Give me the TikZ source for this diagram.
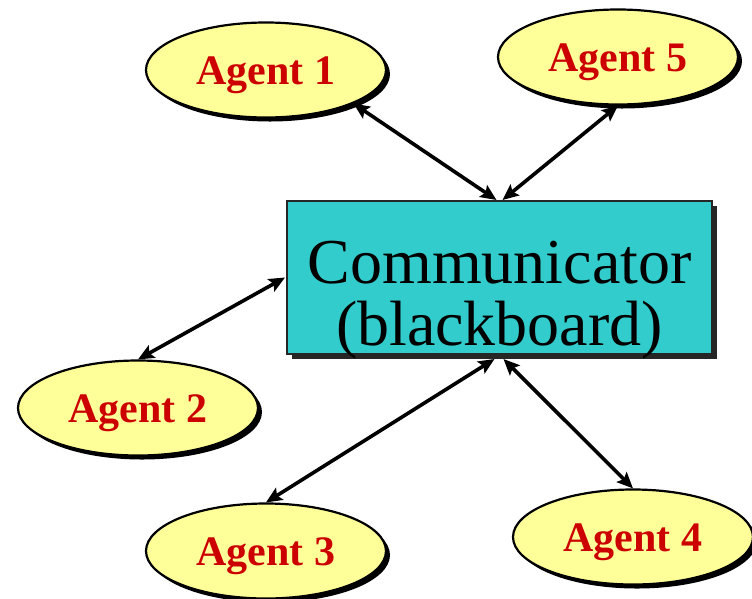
\documentclass[tikz,border=0pt]{standalone}
\usepackage{fontspec}
\setmainfont{Liberation Serif}
\usetikzlibrary{shapes.geometric,shadows,arrows.meta}
\definecolor{agentfill}{HTML}{FFFF99}
\definecolor{agentred}{HTML}{CC0000}
\definecolor{boxfill}{HTML}{33CCCC}
\tikzset{
  agent/.style={ellipse, draw=black, line width=2.2pt, fill=agentfill,
    minimum width=240pt, minimum height=95pt, inner sep=0pt,
    text height=28pt, text depth=0pt,
    text=agentred, font=\fontsize{42}{46}\selectfont\bfseries,
    drop shadow={shadow xshift=4pt, shadow yshift=-4pt, fill=black, opacity=1}},
  board/.style={rectangle, draw=black!85, line width=2pt, fill=boxfill,
    minimum width=425pt, minimum height=153pt, inner sep=0pt,
    font=\fontsize{64}{66}\selectfont,
    drop shadow={shadow xshift=5pt, shadow yshift=-5pt, fill=black!85, opacity=1}},
  tip/.tip={Stealth[length=16pt,width=14pt,inset=3pt]},
  link/.style={line width=3.6pt, tip-tip}
}
\begin{document}
\begin{tikzpicture}[x=1pt,y=-1pt]
\useasboundingbox (0,0) rectangle (752,598);
\node[board] (box) at (499.5,277.5) {\raisebox{-30pt}[0pt][0pt]{\begin{tabular}{@{}c@{}}Communicator\\[-4pt](blackboard)\end{tabular}}};
\node[agent] (a1) at (266,70) {Agent 1};
\node[agent] (a5) at (618,57) {Agent 5};
\node[agent] (a2) at (138,408) {Agent 2};
\node[agent] (a3) at (266,551) {Agent 3};
\node[agent] (a4) at (633,537) {Agent 4};
\draw[link] (a1.-21) -- ([xshift=-3pt]box.north);
\draw[link] (a5.south) -- ([xshift=3pt]box.north);
\draw[link] (a2.north) -- ([xshift=-1pt]box.west);
\draw[link] (a3.north) -- ([xshift=-5pt,yshift=-4pt]box.south);
\draw[link] (a4.north) -- ([xshift=4pt,yshift=-4pt]box.south);
\end{tikzpicture}
\end{document}
